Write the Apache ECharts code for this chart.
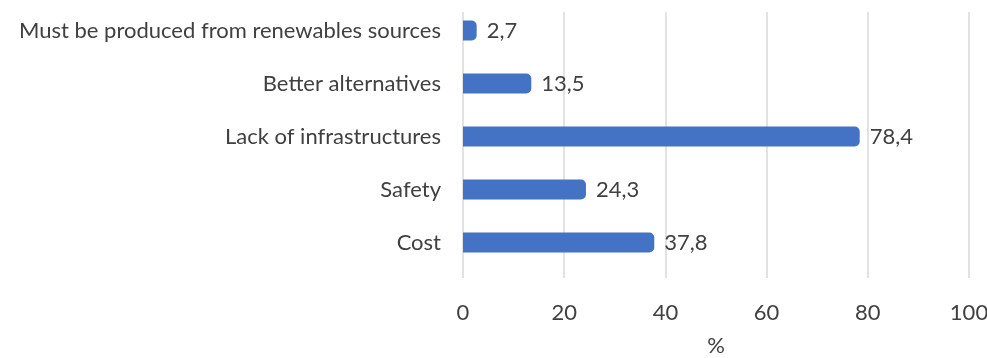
<!DOCTYPE html>
<html>
<head>
<meta charset="utf-8">
<script src="https://cdn.jsdelivr.net/npm/echarts@6/dist/echarts.min.js"></script>
<style>
  html, body { margin: 0; padding: 0; background: #fff; }
  #chart { width: 987px; height: 358px; }
</style>
</head>
<body>
<div id="chart"></div>
<script>
// categories bottom to top (ECharts category y axis starts at the bottom)
const categories = [
  "Cost",
  "Safety",
  "Lack of infrastructures",
  "Better alternatives",
  "Must be produced from renewables sources"
];
const values = [37.8, 24.3, 78.4, 13.5, 2.7];
const xTicks = { min: 0, max: 100, interval: 20 };

const font = "Lato, 'Open Sans', sans-serif";
const textColor = "#404040";
const fontSize = 22;

const myChart = echarts.init(document.getElementById("chart"));
const option = {
  animation: false,
  // grid 0 carries the gridlines and tick labels, grid 1 the bars
  grid: [
    { left: 463, right: 18, top: 12, bottom: 80, outerBoundsMode: "none" },
    { left: 463, right: 18, top: 4, bottom: 89, outerBoundsMode: "none" }
  ],
  xAxis: [
    {
      gridIndex: 0,
      type: "value",
      min: xTicks.min,
      max: xTicks.max,
      interval: xTicks.interval,
      name: "%",
      nameLocation: "middle",
      nameGap: 57,
      nameTextStyle: { color: textColor, fontSize: fontSize, fontFamily: font },
      axisLine: { show: false },
      axisTick: { show: false },
      axisLabel: { color: textColor, fontSize: fontSize, fontFamily: font, margin: 24 },
      splitLine: { lineStyle: { color: "#d9d9d9", width: 1.5 } }
    },
    {
      gridIndex: 1,
      type: "value",
      min: xTicks.min,
      max: xTicks.max,
      show: false
    }
  ],
  yAxis: [
    {
      gridIndex: 0,
      type: "category",
      data: categories,
      show: false
    },
    {
      gridIndex: 1,
      type: "category",
      data: categories,
      axisLine: { show: false },
      axisTick: { show: false },
      axisLabel: { color: textColor, fontSize: fontSize, fontFamily: font, margin: 22 }
    }
  ],
  series: [
    {
      type: "bar",
      xAxisIndex: 1,
      yAxisIndex: 1,
      data: values,
      barWidth: 20,
      itemStyle: { color: "#4472C4", borderRadius: [0, 5, 5, 0] },
      label: {
        show: true,
        position: "right",
        distance: 10,
        color: textColor,
        fontSize: fontSize,
        fontFamily: font,
        formatter: (p) => String(p.value).replace(".", ",")
      }
    }
  ]
};
myChart.setOption(option);
</script>
</body>
</html>
